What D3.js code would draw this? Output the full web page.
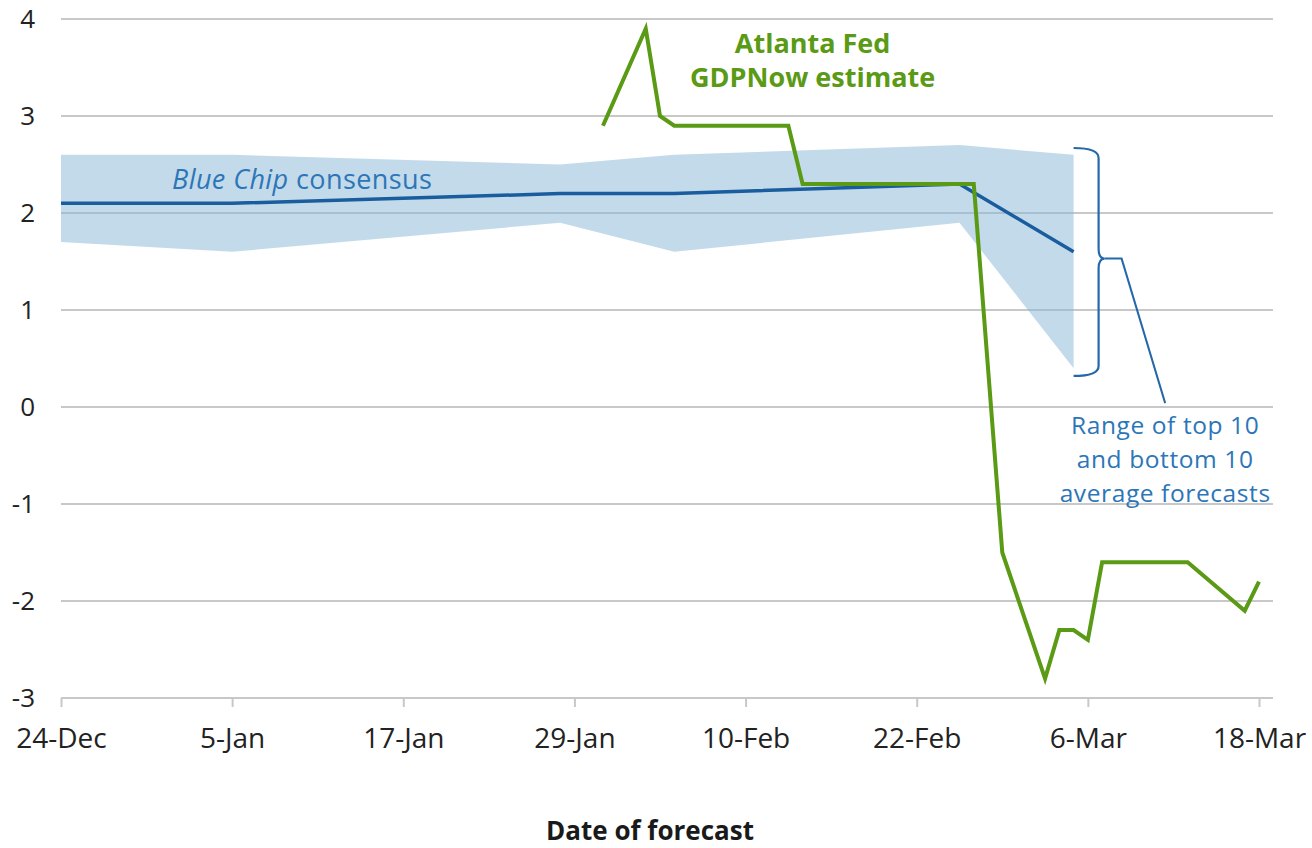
<!DOCTYPE html>
<html>
<head>
<meta charset="utf-8">
<script src="https://cdn.jsdelivr.net/npm/d3@7"></script>
<style>
  html, body { margin: 0; padding: 0; background: #ffffff; }
  svg { display: block; font-family: "Open Sans", "Noto Sans", sans-serif; }
</style>
</head>
<body>
<svg id="chart" width="1312" height="848"></svg>
<script>
// ---------- DATA ----------
const bcDates      = ["2024-12-24", "2025-01-05", "2025-01-28", "2025-02-05", "2025-02-25", "2025-03-05"];
const bcConsensus  = [2.1, 2.1, 2.2, 2.2, 2.3, 1.6];
const bcTop10      = [2.6, 2.6, 2.5, 2.6, 2.7, 2.6];
const bcBottom10   = [1.7, 1.6, 1.9, 1.6, 1.9, 0.4];

const gdpNowDates  = ["2025-01-31", "2025-02-03", "2025-02-04", "2025-02-05", "2025-02-13", "2025-02-14",
                      "2025-02-26", "2025-02-28", "2025-03-03", "2025-03-04", "2025-03-05", "2025-03-06",
                      "2025-03-07", "2025-03-13", "2025-03-17", "2025-03-18"];
const gdpNowValues = [2.9, 3.9, 3.0, 2.9, 2.9, 2.3,
                      2.3, -1.5, -2.8, -2.3, -2.3, -2.4,
                      -1.6, -1.6, -2.1, -1.8];

const xTickDates   = ["2024-12-24", "2025-01-05", "2025-01-17", "2025-01-29", "2025-02-10", "2025-02-22", "2025-03-06", "2025-03-18"];
const yTickValues  = [-3, -2, -1, 0, 1, 2, 3, 4];

const xAxisTitle   = "Date of forecast";
const gdpNowLabel  = ["Atlanta Fed", "GDPNow estimate"];
const rangeLabel   = ["Range of top 10", "and bottom 10", "average forecasts"];

// ---------- SETUP ----------
const parse = d3.utcParse("%Y-%m-%d");
const fmt = d3.utcFormat("%-d-%b");

const svg = d3.select("#chart");

const x = d3.scaleUtc()
  .domain([parse(xTickDates[0]), parse(xTickDates[xTickDates.length - 1])])
  .range([61, 1259]);
const y = d3.scaleLinear().domain([-3, 4]).range([698, 19]);

const gridRight = x.range()[1] + 14;

const bc = bcDates.map((d, i) => ({ date: parse(d), mid: bcConsensus[i], top: bcTop10[i], bot: bcBottom10[i] }));
const gdp = gdpNowDates.map((d, i) => ({ date: parse(d), v: gdpNowValues[i] }));

// ---------- GRIDLINES ----------
svg.append("g")
  .selectAll("line")
  .data(yTickValues)
  .join("line")
  .attr("x1", x.range()[0])
  .attr("x2", gridRight)
  .attr("y1", d => y(d))
  .attr("y2", d => y(d))
  .attr("stroke", "#c8c8c8")
  .attr("stroke-width", 2);

// Y labels
svg.append("g")
  .selectAll("text")
  .data(yTickValues)
  .join("text")
  .attr("x", 35)
  .attr("y", d => y(d))
  .attr("dy", "0.35em")
  .attr("text-anchor", "end")
  .attr("font-size", 26)
  .attr("fill", "#222")
  .text(d => d);

// X axis (ticks + labels) on the -3 line
const xAxis = d3.axisBottom(x)
  .tickValues(xTickDates.map(parse))
  .tickFormat(fmt)
  .tickSize(9)
  .tickPadding(21);
const gx = svg.append("g").attr("transform", `translate(0,${y(-3)})`).call(xAxis);
gx.select(".domain").remove();
gx.selectAll(".tick line").attr("stroke", "#c8c8c8").attr("stroke-width", 2);
gx.selectAll(".tick text")
  .attr("font-family", "'Open Sans', sans-serif")
  .attr("font-size", 28)
  .attr("fill", "#222");

// Axis title
svg.append("text")
  .attr("x", (x.range()[0] + gridRight) / 2 - 17)
  .attr("y", 840)
  .attr("text-anchor", "middle")
  .attr("font-size", 26)
  .attr("font-weight", "bold")
  .attr("fill", "#1a1a1a")
  .text(xAxisTitle);

// ---------- BAND ----------
const area = d3.area()
  .x(d => x(d.date))
  .y0(d => y(d.bot))
  .y1(d => y(d.top));
svg.append("path")
  .datum(bc)
  .attr("d", area)
  .attr("fill", "rgb(136,182,214)")
  .attr("fill-opacity", 0.5);

// ---------- LINES ----------
svg.append("path")
  .datum(bc)
  .attr("d", d3.line().x(d => x(d.date)).y(d => y(d.mid)))
  .attr("fill", "none")
  .attr("stroke", "#1a5d9e")
  .attr("stroke-width", 3.5)
  .attr("stroke-linejoin", "round");

svg.append("path")
  .datum(gdp)
  .attr("d", d3.line().x(d => x(d.date)).y(d => y(d.v)))
  .attr("fill", "none")
  .attr("stroke", "#5a9a14")
  .attr("stroke-width", 4)
  .attr("stroke-linejoin", "miter");

// ---------- ANNOTATIONS ----------
// Blue Chip consensus label
const bcLab = svg.append("text")
  .attr("x", x(parse("2025-01-01")) - 3)
  .attr("y", y(2.25))
  .attr("font-size", 27)
  .attr("letter-spacing", 0.4)
  .attr("fill", "#2c76b8");
bcLab.append("tspan").attr("font-style", "italic").text("Blue Chip");
bcLab.append("tspan").text(" consensus");

// GDPNow label
const gLab = svg.append("text")
  .attr("text-anchor", "middle")
  .attr("font-size", 27)
  .attr("font-weight", "bold")
  .attr("fill", "#5a9a14");
gdpNowLabel.forEach((t, i) => {
  gLab.append("tspan")
    .attr("x", x(parse("2025-02-14")) + 10)
    .attr("y", y(3.65) + i * 34)
    .text(t);
});

// Brace
const lastBc = bc[bc.length - 1];
const bx0 = x(lastBc.date);
const bx1 = bx0 + 25;
const yTop = y(2.67), yBot = y(0.32), yMid = y(1.53);
const r = 10;
const bracePath = `M${bx0},${yTop} Q${bx1},${yTop} ${bx1},${yTop + r}
  L${bx1},${yMid - r} Q${bx1},${yMid} ${bx1 + 6},${yMid}
  Q${bx1},${yMid} ${bx1},${yMid + r}
  L${bx1},${yBot - r} Q${bx1},${yBot} ${bx0},${yBot}`;
svg.append("path")
  .attr("d", bracePath)
  .attr("fill", "none")
  .attr("stroke", "#2468aa")
  .attr("stroke-width", 2.2);

// leader line
const labelX = x(parse("2025-03-11")) + 6;
svg.append("path")
  .attr("d", `M${bx1 + 6},${yMid} L${bx1 + 23},${yMid} L${labelX},${y(0.04)}`)
  .attr("fill", "none")
  .attr("stroke", "#2468aa")
  .attr("stroke-width", 2);

// Range label
const rLab = svg.append("text")
  .attr("text-anchor", "middle")
  .attr("font-size", 24.5)
  .attr("letter-spacing", 0.6)
  .attr("fill", "#2c76b8");
rangeLabel.forEach((t, i) => {
  rLab.append("tspan")
    .attr("x", labelX)
    .attr("y", y(-0.28) + i * 34)
    .text(t);
});
</script>
</body>
</html>
